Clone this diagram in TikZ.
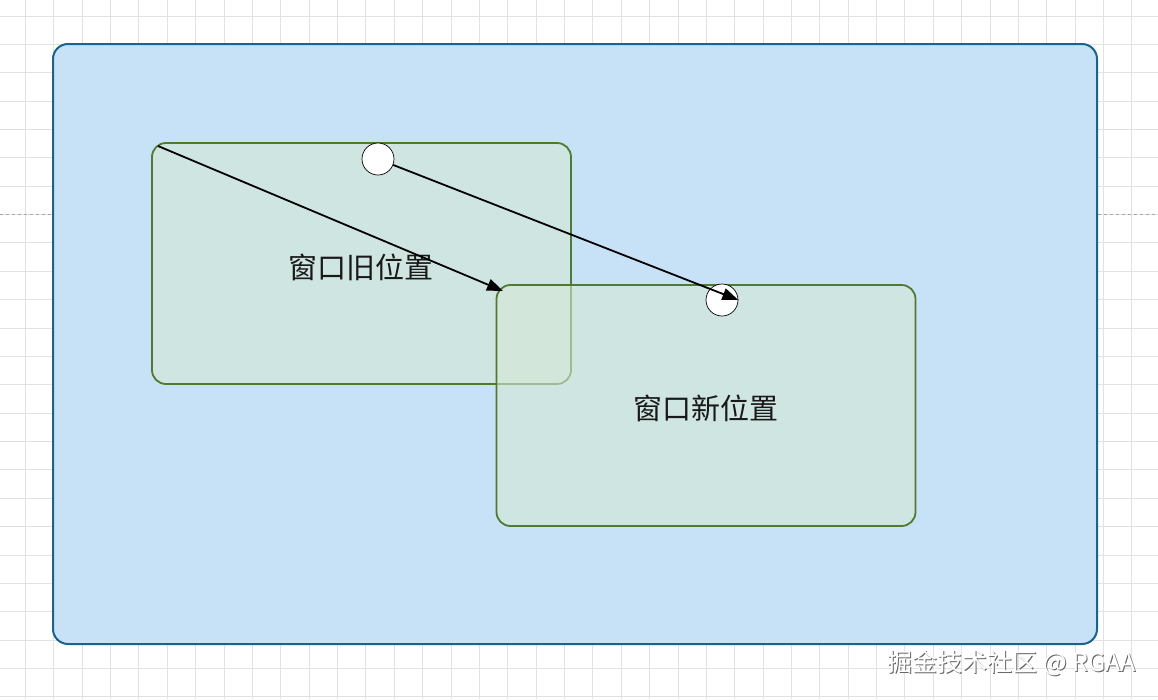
\documentclass[tikz,border=0pt]{standalone}
\usepackage{fontspec}
\setmainfont{Noto Sans CJK SC}
\usetikzlibrary{arrows.meta}
\definecolor{screenblue}{RGB}{199,226,247}
\definecolor{screenline}{RGB}{24,100,140}
\definecolor{winfill}{RGB}{213,232,212}
\definecolor{winline}{RGB}{80,122,46}
\definecolor{gridgray}{RGB}{226,226,226}
\begin{document}
\begin{tikzpicture}
        [x=1pt,y=-1pt,>={Triangle[length=16pt,width=12pt]},
         window/.style={draw=winline,line width=1.8pt,fill=winfill,fill opacity=0.6,
           text opacity=1,rounded corners=14pt,minimum width=419pt,minimum height=241pt,
           inner sep=0pt,font=\fontsize{29}{31}\selectfont,text=black!90},
         dot/.style={circle,draw=black,line width=0.7pt,fill=white,minimum size=32pt,inner sep=0pt}]
        \useasboundingbox (0,0) rectangle (1158,699);
        \fill[white] (0,0) rectangle (1158,699);

        % grid
        \foreach \i in {0,...,40}
        {\draw[gridgray,line width=1pt] (25.5+28.37*\i,0) -- (25.5+28.37*\i,699);}
        \foreach \j in {0,...,24}
        {\draw[gridgray,line width=1pt] (0,16+28.37*\j) -- (1158,16+28.37*\j);}
        \draw[gray!70,dashed,line width=0.8pt] (0,214) -- (1158,214);

        % screen
        \node[draw=screenline,line width=2pt,fill=screenblue,rounded corners=15pt,
          minimum width=1044pt,minimum height=600pt,inner sep=0pt] (screen) at (575,344) {};

        \node[window] (old) at (361.5,263.5) {};
        \node[window] (new) at (706,405.5) {};
        \node[font=\fontsize{29}{31}\selectfont,text=black!90] (oldtext) at (361,267) {窗口旧位置};
        \node[font=\fontsize{29}{31}\selectfont,text=black!90] (newtext) at (706,408) {窗口新位置};

        \node[dot] (p2) at (722,300) {};
        \node[dot] (p1) at (378,159) {};

        \coordinate (oldcorner) at (158,146);
        \coordinate (newcorner) at (503,291);
        \draw[->,line width=1.8pt] (oldcorner) -- (newcorner);
        \draw[->,line width=1.8pt] (p1) -- (p2.east);

        % watermark
        \node[text=gray!80!black,font=\fontsize{25}{27}\selectfont] (markshadow) at (1012.5,664.5) {掘金技术社区 @ RGAA};
        \node[text=white,font=\fontsize{25}{27}\selectfont] (mark) at (1011.5,663.5) {掘金技术社区 @ RGAA};
      \end{tikzpicture}
\end{document}
